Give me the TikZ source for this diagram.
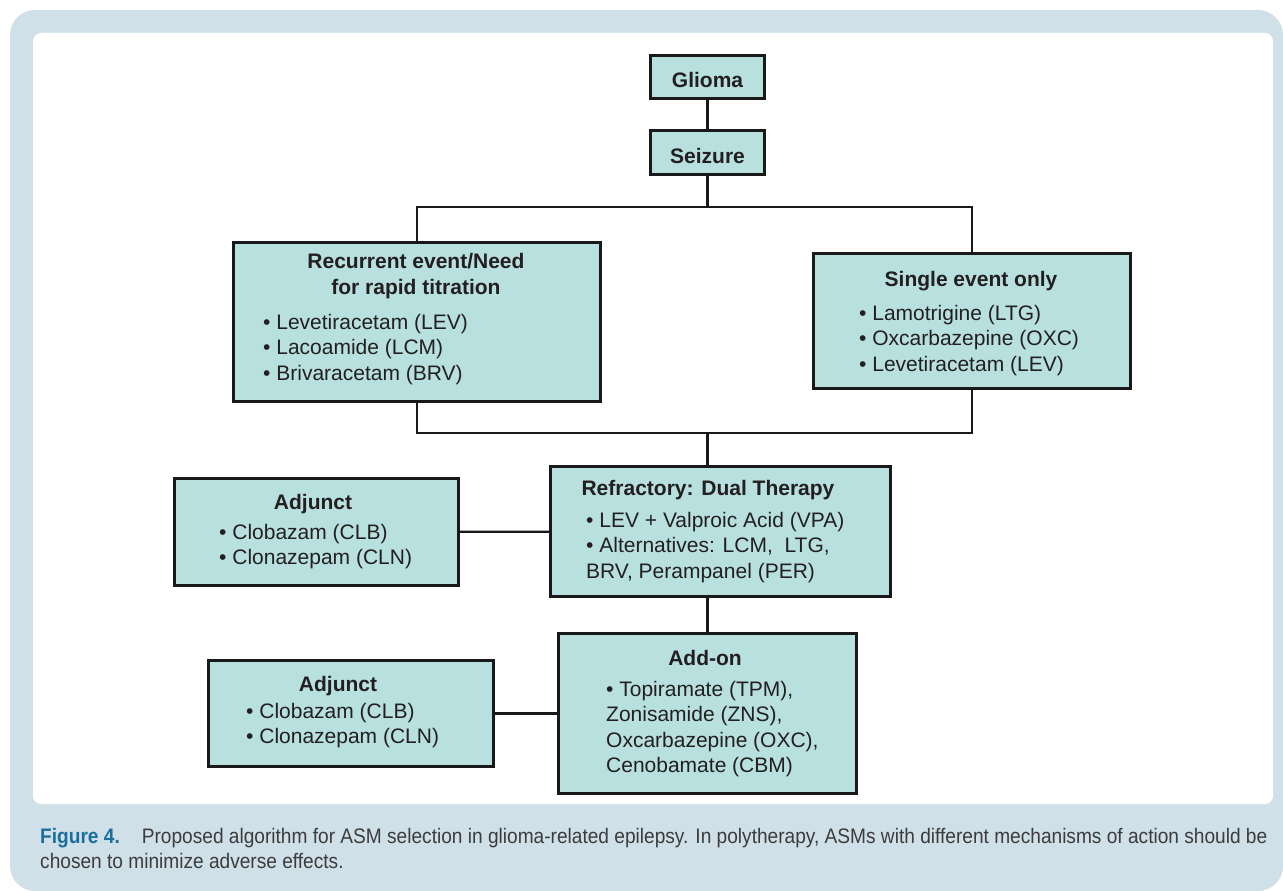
\documentclass[tikz,border=0pt]{standalone}
\usepackage{fontspec}
\setmainfont{Liberation Sans}
\newfontfamily\capfont[FakeStretch=0.91]{Liberation Sans}
\usepackage{tikz}
\definecolor{boxfill}{HTML}{B8E0DF}
\definecolor{bgblue}{HTML}{CFE0E9}
\definecolor{inktext}{HTML}{231F20}
\definecolor{figblue}{HTML}{1B6E9D}
\definecolor{captext}{HTML}{3C3C3C}
\newcommand{\boxfont}{\fontsize{21}{25.5}\selectfont}
\newcommand{\capsize}{\fontsize{21}{25}\selectfont}

\begin{document}
\begin{tikzpicture}[x=1pt,y=-1pt,
  box/.style={rectangle,draw=black!90,fill=boxfill,line width=2.8pt,inner sep=0pt},
  head/.style={anchor=north,inner sep=0pt,align=center,text=inktext,
    font=\boxfont\bfseries,execute at begin node={\strut}},
  list/.style={anchor=north west,inner sep=0pt,align=left,text=inktext,
    font=\boxfont,execute at begin node={\strut}},
  link/.style={draw=black!90,line width=2.2pt}]

  \useasboundingbox (0,0) rectangle (1283,891);
  \fill[bgblue,rounded corners=25pt] (10,10) rectangle (1283,891);
  \fill[white,rounded corners=8pt] (33,33) rectangle (1273,804);

  \node[box,minimum width=114pt,minimum height=43pt] (glioma) at (707.5,77) {};
  \node[box,minimum width=114pt,minimum height=44pt] (seizure) at (707.5,152.5) {};
  \node[box,minimum width=367pt,minimum height=159pt] (recur) at (417,322) {};
  \node[box,minimum width=317pt,minimum height=135pt] (single) at (972,321) {};
  \node[box,minimum width=340pt,minimum height=130pt] (refr) at (720.5,531.5) {};
  \node[box,minimum width=284pt,minimum height=107pt] (adj1) at (316.5,532) {};
  \node[box,minimum width=298pt,minimum height=160pt] (addon) at (707.5,713.5) {};
  \node[box,minimum width=285pt,minimum height=106pt] (adj2) at (351,713.5) {};

  \node[head] (gliomaT) at (707.5,69.15) {Glioma};
  \node[head] (seizureT) at (707.5,145.15) {Seizure};
  \node[head] (recurT) at (416,253.15) {Recurrent event/Need\\[0.5pt]for rapid titration};
  \node[list] (recurL) at (263,313.65)
    {• Levetiracetam (LEV)\\• Lacoamide (LCM)\\• Brivaracetam (BRV)};
  \node[head] (singleT) at (971,268.15) {Single event only};
  \node[list] (singleL) at (859,304.65)
    {• Lamotrigine (LTG)\\• Oxcarbazepine (OXC)\\• Levetiracetam (LEV)};
  \node[head] (refrT) at (708,477.15) {Refractory: Dual Therapy};
  \node[list] (refrL) at (586,511.65)
    {• LEV + Valproic Acid (VPA)\\• Alternatives: LCM, \ LTG,\\BRV, Perampanel (PER)};
  \node[head] (adj1T) at (313,491.15) {Adjunct};
  \node[list] (adj1L) at (219,523.65) {• Clobazam (CLB)\\• Clonazepam (CLN)};
  \node[head] (addonT) at (705,647.15) {Add-on};
  \node[list] (addonL) at (606,680.65)
    {• Topiramate (TPM),\\Zonisamide (ZNS),\\Oxcarbazepine (OXC),\\Cenobamate (CBM)};
  \node[head] (adj2T) at (338,673.15) {Adjunct};
  \node[list] (adj2L) at (246,702.65) {• Clobazam (CLB)\\• Clonazepam (CLN)};

  \coordinate (split) at (707.5,207);
  \coordinate (merge) at (707.5,433);

  \path[link]
    (glioma) edge (seizure)
    (seizure) edge (split)
    (adj1) edge (refr)
    (adj2) edge (addon);
  \draw[link] (recur.north) |- (split) -| (single.north);
  \draw[link] (recur.south) |- (merge) -| (single.south);
  \draw[link] (merge) -- (merge |- refr.north);
  \draw[link] (addon.north) -- (addon.north |- refr.south);

  \node[anchor=north west,inner sep=0pt,align=left,text=captext,
    font=\capfont\capsize,execute at begin node={\strut}] (caption) at (40,828)
    {{\color{figblue}\bfseries Figure 4.}\hspace{22pt}Proposed algorithm for ASM selection in glioma-related epilepsy. In polytherapy, ASMs with different mechanisms of action should be\\chosen to minimize adverse effects.};
\end{tikzpicture}
\end{document}
